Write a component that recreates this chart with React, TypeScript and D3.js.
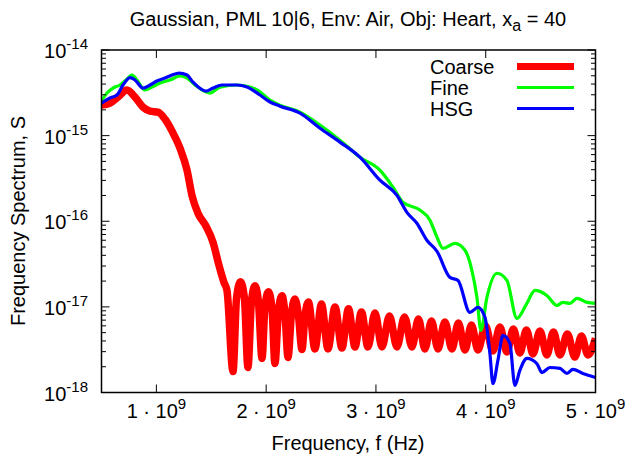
import React from "react";
import * as d3 from "d3";

// Frequency in GHz (axis shown as n · 10^9 Hz), spectrum S
const coarseFreq = [
  0.5, 0.577, 0.65, 0.732, 0.805, 0.878, 0.942, 1.015, 1.078, 1.142,
  1.215, 1.279, 1.324, 1.379, 1.452, 1.516, 1.57, 1.616, 1.643, 1.698,
  1.73, 1.766, 1.802, 1.834, 1.866, 1.898, 1.93, 1.962, 1.989, 2.021,
  2.053, 2.08, 2.112, 2.144, 2.171, 2.199, 2.23, 2.262, 2.294, 2.326,
  2.353, 2.385, 2.444, 2.504, 2.563, 2.627, 2.69, 2.75, 2.809, 2.868,
  2.927, 2.991, 3.055, 3.123, 3.191, 3.26, 3.328, 3.387, 3.446, 3.506,
  3.565, 3.628, 3.692, 3.751, 3.811, 3.87, 3.929, 3.997, 4.066, 4.129,
  4.193, 4.252, 4.311, 4.371, 4.43, 4.494, 4.557, 4.617, 4.676, 4.744,
  4.812, 4.872, 4.931, 5.0,
];
const coarseS = [
  2.27e-15, 2.4e-15, 2.82e-15, 3.41e-15, 2.82e-15, 2.15e-15, 1.93e-15, 1.88e-15, 1.56e-15, 1.13e-15,
  7.14e-16, 3.95e-16, 2.01e-16, 1.24e-16, 8.74e-17, 5.68e-17, 3.06e-17, 1.93e-17, 1.56e-17, 1.76e-18,
  1.26e-17, 1.96e-17, 1.26e-17, 1.96e-18, 1.16e-17, 1.76e-17, 1.13e-17, 2.5e-18, 1.01e-17, 1.5e-17,
  9.6e-18, 2.18e-18, 8.86e-18, 1.35e-17, 8.4e-18, 2.57e-18, 8.17e-18, 1.24e-17, 7.95e-18, 3.18e-18,
  7.74e-18, 1.14e-17, 3.23e-18, 1.08e-17, 3.23e-18, 1.0e-17, 3.31e-18, 9.48e-18, 3.41e-18, 8.74e-18,
  3.41e-18, 8.51e-18, 3.41e-18, 7.85e-18, 3.41e-18, 7.64e-18, 3.41e-18, 7.24e-18, 3.23e-18, 6.86e-18,
  3.23e-18, 6.68e-18, 3.23e-18, 6.5e-18, 3.14e-18, 6.16e-18, 3.14e-18, 6.0e-18, 3.06e-18, 5.84e-18,
  2.98e-18, 5.53e-18, 2.9e-18, 5.38e-18, 2.82e-18, 5.24e-18, 2.75e-18, 5.1e-18, 2.75e-18, 4.83e-18,
  2.6e-18, 4.58e-18, 2.75e-18, 4.28e-18,
];

const fineFreq = [
  0.5, 0.55, 0.605, 0.668, 0.723, 0.778, 0.823, 0.896, 0.96, 1.033,
  1.124, 1.215, 1.279, 1.352, 1.488, 1.579, 1.734, 1.852, 1.916, 2.035,
  2.126, 2.308, 2.49, 2.672, 2.854, 3.036, 3.155, 3.246, 3.401, 3.492,
  3.556, 3.61, 3.72, 3.811, 3.874, 3.92, 3.956, 4.011, 4.102, 4.193,
  4.284, 4.375, 4.448, 4.557, 4.648, 4.703, 4.767, 4.831, 4.922, 5.0,
];
const fineS = [
  2.53e-15, 3.14e-15, 3.59e-15, 3.9e-15, 4.46e-15, 5.1e-15, 4.46e-15, 3.41e-15, 3.69e-15, 4.11e-15,
  4.46e-15, 4.97e-15, 4.7e-15, 3.9e-15, 3.14e-15, 3.69e-15, 3.9e-15, 3.69e-15, 3.41e-15, 2.6e-15,
  2.27e-15, 1.88e-15, 1.33e-15, 8.86e-16, 5.6e-16, 3.95e-16, 2.5e-16, 1.67e-16, 1.35e-16, 1.03e-16,
  6.5e-17, 4.83e-17, 5.53e-17, 4.58e-17, 2.67e-17, 1.29e-17, 5.31e-18, 1.29e-17, 2.47e-17, 2.04e-17,
  7.34e-18, 1.1e-17, 1.56e-17, 1.36e-17, 1.04e-17, 1.13e-17, 1.1e-17, 1.26e-17, 1.13e-17, 1.1e-17,
];

const hsgFreq = [
  0.5, 0.577, 0.641, 0.696, 0.76, 0.805, 0.878, 0.942, 1.005, 1.078,
  1.142, 1.206, 1.279, 1.333, 1.452, 1.516, 1.597, 1.734, 1.825, 1.944,
  2.035, 2.126, 2.308, 2.49, 2.672, 2.854, 3.036, 3.191, 3.282, 3.373,
  3.464, 3.556, 3.674, 3.747, 3.856, 3.929, 3.993, 4.038, 4.066, 4.111,
  4.157, 4.22, 4.266, 4.311, 4.375, 4.466, 4.512, 4.585, 4.676, 4.74,
  4.794, 4.885, 5.0,
];
const hsgS = [
  2.4e-15, 2.75e-15, 2.98e-15, 3.9e-15, 4.77e-15, 4.46e-15, 3.59e-15, 3.9e-15, 4.34e-15, 4.7e-15,
  5.1e-15, 5.38e-15, 5.1e-15, 4.22e-15, 3.31e-15, 3.59e-15, 3.9e-15, 3.9e-15, 3.69e-15, 2.98e-15,
  2.47e-15, 2.21e-15, 1.83e-15, 1.22e-15, 8.4e-16, 5.6e-16, 3.02e-16, 2.01e-16, 1.27e-16, 9.48e-17,
  6.0e-17, 4.46e-17, 2.21e-17, 2.04e-17, 8.62e-18, 9.87e-18, 7.54e-18, 2.86e-18, 1.27e-18, 2.37e-18,
  4.64e-18, 3.74e-18, 1.21e-18, 1.81e-18, 2.5e-18, 2.18e-18, 1.71e-18, 1.96e-18, 1.91e-18, 1.67e-18,
  1.86e-18, 1.67e-18, 1.5e-18,
];

const xTickValues = [1, 2, 3, 4, 5];
const yDecades = [-18, -17, -16, -15, -14];
const seriesNames = ["Coarse", "Fine", "HSG"];
const seriesColors = ["#ff0000", "#00ff00", "#0000ff"];
const seriesWidths = [7.5, 3.2, 3.2];

const FONT = "'Liberation Sans', Arial, Helvetica, sans-serif";

export default function App() {
  const W = 626;
  const H = 455;
  const left = 101.5, right = 595.5, top = 50, bottom = 392.5;
  const x = d3.scaleLinear().domain([0.5, 5]).range([left, right]);
  const y = d3.scaleLog().domain([1e-18, 1e-14]).range([bottom, top]);

  const line = d3
    .line<[number, number]>()
    .x((d) => x(d[0]))
    .y((d) => y(d[1]))
    .curve(d3.curveMonotoneX);

  const series = [
    coarseFreq.map((f, i) => [f, coarseS[i]] as [number, number]),
    fineFreq.map((f, i) => [f, fineS[i]] as [number, number]),
    hsgFreq.map((f, i) => [f, hsgS[i]] as [number, number]),
  ];

  const minorTicks: number[] = [];
  for (let e = -18; e < -14; e++) {
    for (let k = 2; k <= 9; k++) minorTicks.push(k * Math.pow(10, e));
  }

  const majorLen = 8;
  const minorLen = 4.5;

  return (
    <svg
      width={W}
      height={H}
      style={{ position: "absolute", left: 0, top: 0, background: "#fff" }}
      fontFamily={FONT}
    >
      <rect x={0} y={0} width={W} height={H} fill="#fff" />
      <defs>
        <clipPath id="plotclip">
          <rect x={left} y={top} width={right - left} height={bottom - top} />
        </clipPath>
      </defs>

      {/* title */}
      <text x={348} y={26} fontSize={20} textAnchor="middle" fill="#000">
        Gaussian, PML 10|6, Env: Air, Obj: Heart, x
        <tspan fontSize={16} dy={5}>a</tspan>
        <tspan dy={-5}> = 40</tspan>
      </text>

      {/* curves */}
      <g clipPath="url(#plotclip)">
        {series.map((s, i) => (
          <path
            key={seriesNames[i]}
            d={line(s) || ""}
            fill="none"
            stroke={seriesColors[i]}
            strokeWidth={seriesWidths[i]}
            strokeLinejoin="round"
            strokeLinecap="butt"
          />
        ))}
      </g>

      {/* ticks */}
      <g stroke="#000" strokeWidth={1}>
        {yDecades.map((e) => {
          const yy = y(Math.pow(10, e));
          return (
            <g key={"yd" + e}>
              <line x1={left} x2={left + majorLen} y1={yy} y2={yy} />
              <line x1={right} x2={right - majorLen} y1={yy} y2={yy} />
            </g>
          );
        })}
        {minorTicks.map((v, i) => {
          const yy = y(v);
          return (
            <g key={"ym" + i}>
              <line x1={left} x2={left + minorLen} y1={yy} y2={yy} />
              <line x1={right} x2={right - minorLen} y1={yy} y2={yy} />
            </g>
          );
        })}
        {xTickValues.map((v) => {
          const xx = x(v);
          return (
            <g key={"xt" + v}>
              <line x1={xx} x2={xx} y1={bottom} y2={bottom - majorLen} />
              <line x1={xx} x2={xx} y1={top} y2={top + majorLen} />
            </g>
          );
        })}
      </g>

      {/* frame */}
      <rect
        x={left}
        y={top}
        width={right - left}
        height={bottom - top}
        fill="none"
        stroke="#000"
        strokeWidth={1.5}
      />

      {/* y tick labels */}
      {yDecades.map((e) => (
        <text
          key={"yl" + e}
          x={88}
          y={y(Math.pow(10, e)) + 8}
          fontSize={20}
          textAnchor="end"
          fill="#000"
        >
          10
          <tspan fontSize={15} dy={-9}>
            {"-" + String(-e)}
          </tspan>
        </text>
      ))}

      {/* x tick labels */}
      {xTickValues.map((v) => (
        <text
          key={"xl" + v}
          x={x(v)}
          y={418}
          fontSize={20}
          textAnchor="middle"
          fill="#000"
        >
          {v + " \u00b7 10"}
          <tspan fontSize={15} dy={-9}>9</tspan>
        </text>
      ))}

      {/* axis labels */}
      <text x={348} y={450} fontSize={20} textAnchor="middle" fill="#000">
        Frequency, f (Hz)
      </text>
      <text
        transform={`translate(25,221) rotate(-90)`}
        fontSize={20}
        textAnchor="middle"
        fill="#000"
      >
        Frequency Spectrum, S
      </text>

      {/* legend */}
      {seriesNames.map((name, i) => {
        const ly = 66.5 + i * 21;
        return (
          <g key={"lg" + name}>
            <text x={430} y={ly + 7} fontSize={20} textAnchor="start" fill="#000">
              {name}
            </text>
            <line
              x1={517}
              x2={574}
              y1={ly}
              y2={ly}
              stroke={seriesColors[i]}
              strokeWidth={i === 0 ? 7 : 3.2}
            />
          </g>
        );
      })}
    </svg>
  );
}
